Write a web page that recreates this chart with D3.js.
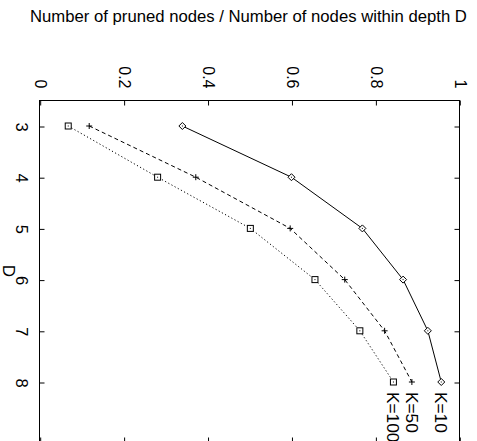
<!DOCTYPE html>
<html><head><meta charset="utf-8">
<script src="https://cdn.jsdelivr.net/npm/d3@7"></script>
<style>
html,body{margin:0;padding:0;background:#fff;}
svg{display:block;}
text{font-family:"Liberation Sans",Arial,Helvetica,sans-serif;fill:#000;}
</style></head>
<body>
<script>
const depths = [3, 4, 5, 6, 7, 8];
const k10 = [0.34, 0.60, 0.769, 0.866, 0.925, 0.957];
const k50 = [0.118, 0.372, 0.597, 0.727, 0.822, 0.887];
const k100 = [0.068, 0.281, 0.502, 0.656, 0.763, 0.843];
const seriesNames = ["K=10", "K=50", "K=100"];
const valueTicks = [0, 0.2, 0.4, 0.6, 0.8, 1];
const depthTicks = [3, 4, 5, 6, 7, 8];
const titleText = "Number of pruned nodes / Number of nodes within depth D";
const depthLabel = "D";

const W = 477, H = 441;
const svg = d3.select("body").append("svg").attr("width", W).attr("height", H);

const bLeft = 39.5, bRight = 459.5, bTop = 100.5, bBottom = 442.5;
const xv = d3.scaleLinear().domain([0, 1]).range([39.7, 459.3]);
const yd = d3.scaleLinear().domain([3, 8]).range([126, 382]);

// title
svg.append("text").attr("x", 30).attr("y", 22).attr("font-size", 16.7).text(titleText);

// border
svg.append("rect").attr("x", bLeft).attr("y", bTop).attr("width", bRight - bLeft).attr("height", bBottom - bTop)
  .attr("fill", "none").attr("stroke", "#000").attr("stroke-width", 1);

// top axis with labels
const gTop = svg.append("g").attr("transform", `translate(0.5,${bTop})`)
  .call(d3.axisTop(xv).tickValues(valueTicks).tickSizeInner(-5).tickSizeOuter(0).tickFormat(d3.format("")));
gTop.select(".domain").remove();
gTop.selectAll(".tick line").attr("stroke", "#000");
gTop.selectAll(".tick text")
  .attr("x", null).attr("y", null).attr("dy", "0.35em")
  .attr("text-anchor", "end")
  .attr("transform", "translate(0,-12) rotate(90)")
  .attr("font-size", 16).attr("font-family", null).attr("fill", "#000");

// bottom mirror
const gBot = svg.append("g").attr("transform", `translate(0.5,${bBottom})`)
  .call(d3.axisBottom(xv).tickValues(valueTicks).tickSizeInner(-5).tickSizeOuter(0).tickFormat(""));
gBot.select(".domain").remove();
gBot.selectAll(".tick line").attr("stroke", "#000");

// left axis with labels
const gLeft = svg.append("g").attr("transform", `translate(${bLeft},0.5)`)
  .call(d3.axisLeft(yd).tickValues(depthTicks).tickSizeInner(-5).tickSizeOuter(0).tickFormat(d3.format("d")));
gLeft.select(".domain").remove();
gLeft.selectAll(".tick line").attr("stroke", "#000");
gLeft.selectAll(".tick text")
  .attr("x", null).attr("y", null).attr("dy", "0.35em")
  .attr("text-anchor", "middle")
  .attr("transform", "translate(-18,0) rotate(90)")
  .attr("font-size", 16.5).attr("font-family", null).attr("fill", "#000");

// right mirror
const gRight = svg.append("g").attr("transform", `translate(${bRight},0.5)`)
  .call(d3.axisRight(yd).tickValues(depthTicks).tickSizeInner(-5).tickSizeOuter(0).tickFormat(""));
gRight.select(".domain").remove();
gRight.selectAll(".tick line").attr("stroke", "#000");

// axis title D
svg.append("text").attr("transform", "translate(8.5,271) rotate(90)")
  .attr("text-anchor", "middle").attr("dy", "0.35em").attr("font-size", 17).text(depthLabel);

const series = [
  {name: seriesNames[0], vals: k10, dash: null, marker: "diamond"},
  {name: seriesNames[1], vals: k50, dash: "4,3", marker: "plus"},
  {name: seriesNames[2], vals: k100, dash: "1.2,2.4", marker: "square"}
];

const line = d3.line().x(d => xv(d[1])).y(d => yd(d[0]));

series.forEach(s => {
  const pts = depths.map((d, i) => [d, s.vals[i]]);
  svg.append("path").datum(pts).attr("d", line)
    .attr("fill", "none").attr("stroke", "#000").attr("stroke-width", 1)
    .attr("stroke-dasharray", s.dash);
  const g = svg.append("g");
  pts.forEach(p => {
    const cx = xv(p[1]), cy = yd(p[0]);
    const m = g.append("g").attr("transform", `translate(${cx},${cy})`);
    if (s.marker === "diamond") {
      m.append("path").attr("d", "M0,-3.5L3.5,0L0,3.5L-3.5,0Z").attr("fill", "#fff").attr("stroke", "#000").attr("stroke-width", 1);
      m.append("rect").attr("x", -0.5).attr("y", -0.5).attr("width", 1).attr("height", 1).attr("fill", "#000");
    } else if (s.marker === "plus") {
      m.append("path").attr("d", "M-3,0H3M0,-3V3").attr("stroke", "#000").attr("stroke-width", 1);
    } else {
      m.append("rect").attr("x", -3).attr("y", -3).attr("width", 6).attr("height", 6).attr("fill", "#fff").attr("stroke", "#000").attr("stroke-width", 1);
      m.append("rect").attr("x", -0.5).attr("y", -0.5).attr("width", 1).attr("height", 1).attr("fill", "#000");
    }
  });
  const last = pts[pts.length - 1];
  svg.append("text")
    .attr("transform", `translate(${xv(last[1])},${yd(last[0]) + 10}) rotate(90)`)
    .attr("text-anchor", "start").attr("dy", "0.35em").attr("font-size", 17.3)
    .text(s.name);
});
</script>
</body></html>
